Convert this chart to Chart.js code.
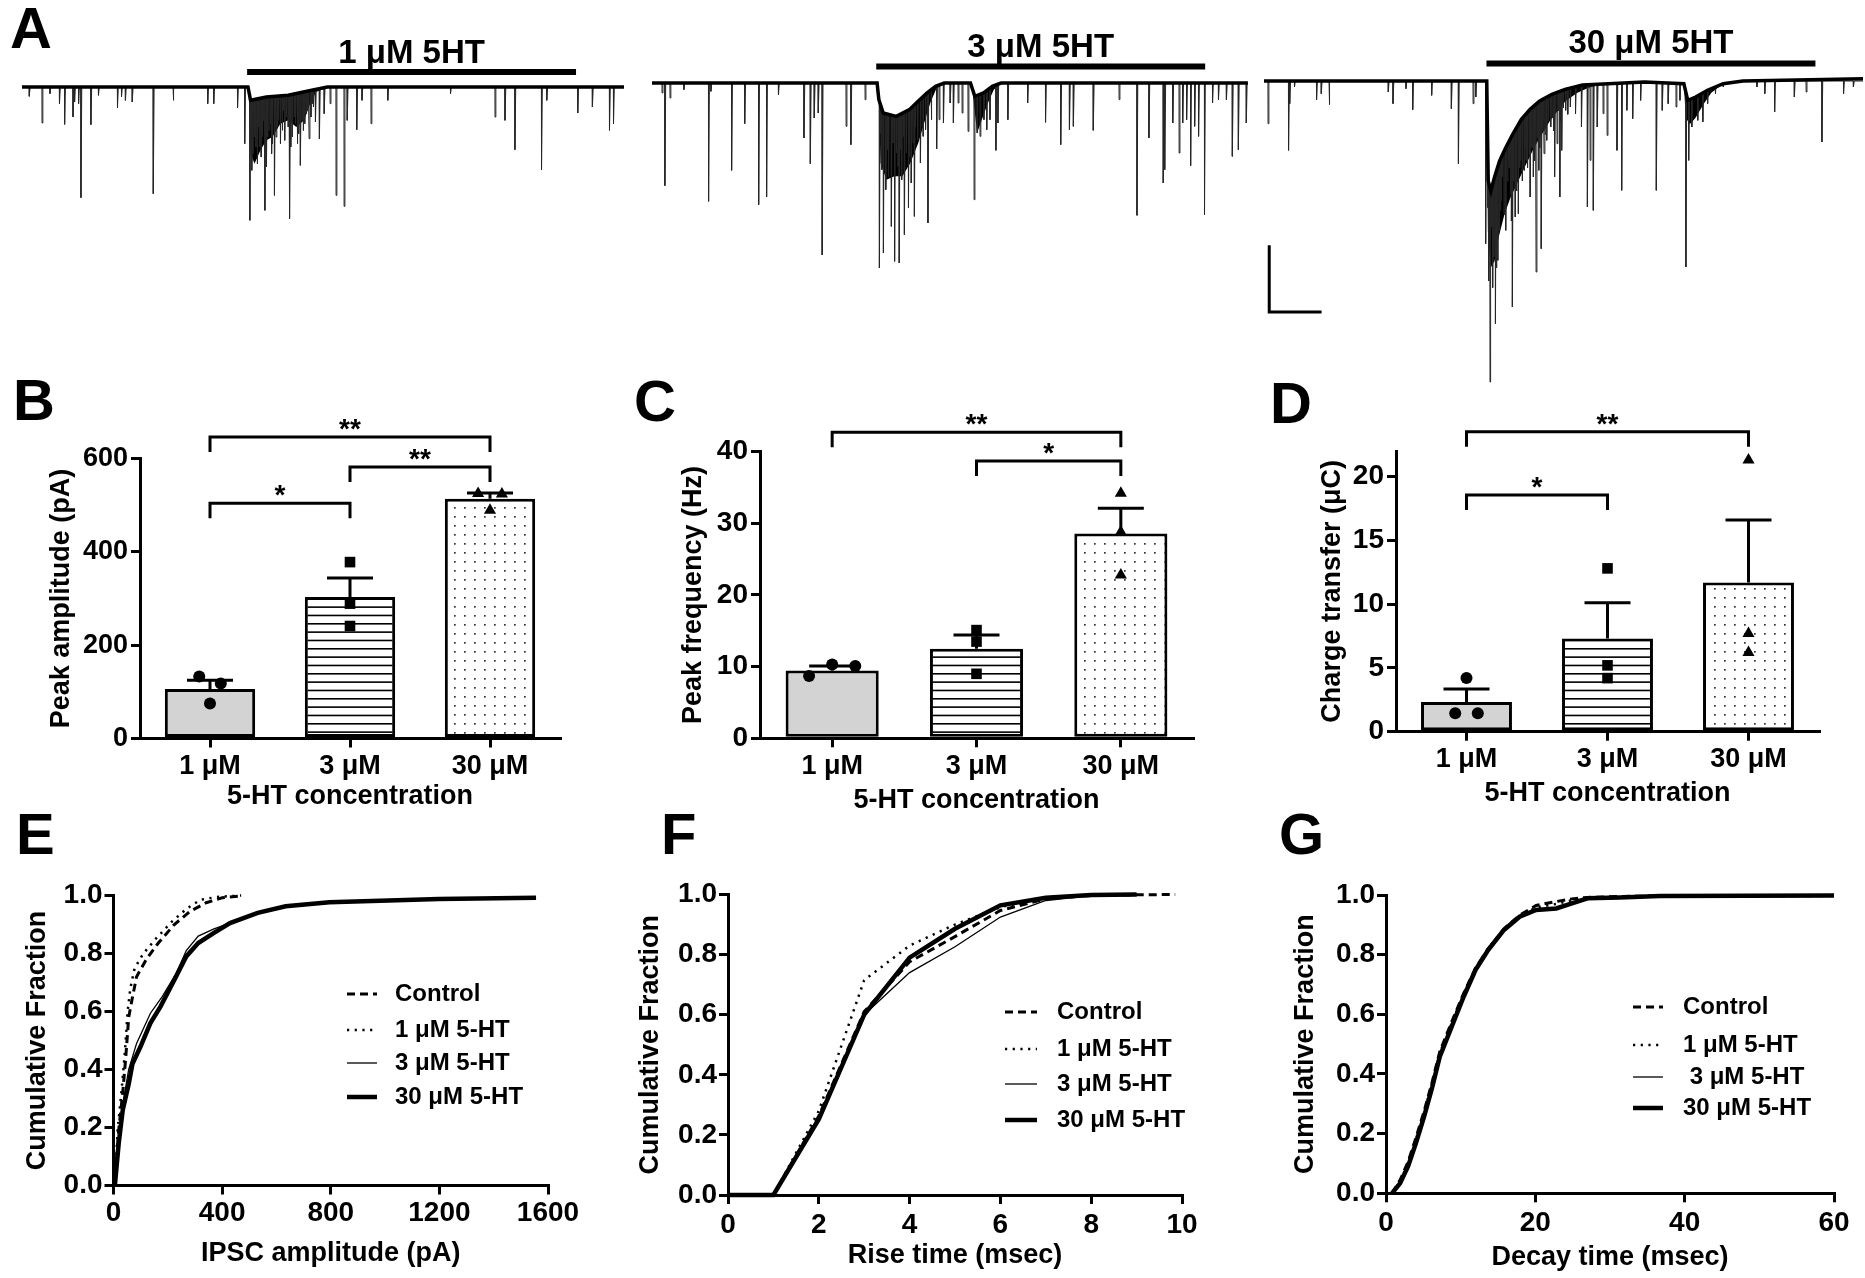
<!DOCTYPE html>
<html>
<head>
<meta charset="utf-8">
<title>5-HT and sIPSCs</title>
<script src="https://cdn.jsdelivr.net/npm/chart.js@4.4.1/dist/chart.umd.min.js"></script>
<style>
  html, body { margin: 0; padding: 0; background: #fff; }
  #page { position: relative; width: 1865px; height: 1278px; overflow: hidden; background: #fff; }
  #page canvas { position: absolute; }
  .letter { position: absolute; font-family: 'Liberation Sans Narrow', 'Liberation Sans', Arial, sans-serif;
            font-weight: bold; font-size: 58px; line-height: 1; color: #000; }
</style>
</head>
<body>
<div id="page"></div>
<script>
// ---------- A: sIPSC traces, events as [time s, peak pA] ----------
const drugLabels = ['1 μM 5HT', '3 μM 5HT', '30 μM 5HT'];
const drugOn = [258, 257, 255];
const drugOff = [635, 634, 632];

const trace1Events = [[8.2,-28],[22.8,-108],[31.9,-20],[42.8,-50],[48.7,-112],[58.3,-90],[60.1,-45],[64.7,-50],[67.4,-332],[78.8,-113],[87.5,-25],[109.3,-62],[113.9,-30],[118.4,-40],[126.2,-45],[150.3,-320],[173.1,-40],[212.7,-50],[219.6,-50],[246.9,-62],[255.1,-170],
  [261.0,-400],[262.0,-120],[263.3,-250],[264.5,-200],[266.5,-150],[268.0,-180],[269.7,-230],[271.0,-120],[272.4,-180],[274.0,-210],[275.6,-150],[277.0,-100],[278.3,-370],[280.0,-240],[281.5,-150],[283.0,-130],[284.7,-110],[286.0,-200],[287.0,-170],[289.2,-325],[291.0,-150],[292.4,-120],[294.0,-100],[296.1,-170],[298.0,-130],[299.7,-70],[301.0,-160],[302.9,-90],[305.0,-120],[306.6,-395],[308.0,-180],[309.7,-150],[312.0,-90],[313.4,-110],[315.2,-170],[317.0,-140],[318.9,-235],[321.0,-100],[322.5,-130],[324.0,-110],[325.7,-80],[327.0,-70],[328.9,-155],[331.0,-90],[332.5,-50],[334.0,-60],[336.2,-105],[340.7,-155],[346.2,-80],[353.0,-50],[359.8,-325],[369.0,-358],[372.6,-100],[383.5,-128],[389.5,-40],[399.9,-110],[419.1,-40],[491.0,-20],[542.0,-90],[553.4,-100],[564.8,-188],[595.3,-248],[601.3,-40],[636.8,-78],[653.6,-60],[673.2,-130],[677.8,-110]];
const trace1Base = [[0,0],[259,0],[262,-40],[280,-30],[305,-25],[332,-10],[350,0],[690,0]];
const trace1Burst = [[0,0],[259.6,0],[261.9,-200],[266.5,-230],[273.3,-190],[280.1,-160],[287.0,-150],[296.1,-110],[305.2,-100],[314.3,-120],[323.4,-100],[330.2,-50],[337.1,-15],[350,0],[690,0]];

const trace2Events = [[11.4,-30],[14.6,-308],[20.5,-45],[36.4,-20],[64.7,-355],[67.4,-25],[91.1,-262],[106.1,-122],[122.1,-365],[131.2,-342],[144.8,-35],[174.0,-165],[181.3,-242],[185.8,-105],[190.4,-90],[194.9,-516],[222.3,-130],[227.8,-185],[244.1,-50],[258.3,-40],
  [260.5,-555],[262.0,-150],[263.3,-260],[265.1,-510],[267.8,-320],[269.5,-200],[271.0,-280],[274.2,-430],[276.0,-180],[277.9,-535],[280.1,-210],[282.0,-250],[283.3,-540],[285.0,-200],[286.1,-290],[288.0,-160],[289.2,-455],[291.5,-210],[293.8,-375],[295.0,-220],[297.0,-300],[299.0,-180],[300.6,-400],[302.0,-130],[304.3,-170],[307.5,-240],[310.7,-160],[313.4,-140],[316.1,-420],[319.8,-110],[326.1,-198],[328.9,-110],[333.9,-120],[341.6,-60],[345.3,-120],[350.7,-60],[355.3,-90],[362.1,-145],[369.0,-350],[372.6,-150],[375.8,-160],[380.3,-110],[383.5,-140],[387.2,-110],[394.0,-202],[396.3,-120],[407.7,-110],[430.4,-60],[450.9,-118],[468.3,-185],[478.3,-140],[482.8,-130],[505.6,-142],[535.2,-50],[555.7,-397],[569.4,-165],[585.8,-300],[587.6,-260],[596.7,-120],[604.0,-210],[608.1,-120],[612.6,-110],[617.2,-248],[621.8,-130],[626.3,-160],[633.1,-395],[642.3,-60],[649.1,-50],[658.2,-50],[665.0,-220],[671.9,-200],[681.0,-120]];
const trace2Base = [[0,0],[258,0],[260,-50],[265,-90],[280,-100],[295,-80],[305,-55],[315,-30],[325,-10],[335,0],[365,0],[370,-40],[380,-30],[390,-10],[400,0],[683,0]];
const trace2Burst = [[0,0],[259.6,0],[261.9,-240],[268.7,-290],[277.9,-280],[287.0,-280],[296.1,-240],[305.2,-180],[312.0,-120],[318.9,-60],[325.7,-18],[335,0],[365,0],[368,-40],[372.6,-150],[378,-110],[385,-60],[391.7,-20],[400,0],[683,0]];

const trace3Events = [[4.5,-128],[28.0,-208],[29.4,-68],[34.8,-18],[60.1,-56],[65.5,-38],[74.5,-71],[142.3,-33],[147.7,-68],[162.6,-23],[170.3,-86],[192.0,-43],[214.6,-83],[222.7,-248],[239.5,-68],[242.6,-48],[253.9,-488],
  [256.5,-380],[257.5,-600],[258.9,-903],[259.5,-450],[260.7,-438],[262.0,-620],[263.4,-528],[264.3,-480],[265.2,-728],[266.5,-560],[267.9,-538],[269.5,-450],[271.1,-388],[272.0,-360],[273.3,-288],[275.0,-400],[276.9,-448],[278.5,-300],[280.1,-238],[281.0,-260],[282.4,-338],[283.5,-420],[284.6,-678],[286.0,-300],[287.8,-408],[289.5,-330],[291.4,-398],[293.0,-260],[294.1,-238],[296.0,-300],[298.2,-268],[299.0,-200],[300.4,-238],[302.0,-260],[304.0,-220],[305.0,-348],[307.0,-200],[308.6,-288],[310.0,-240],[311.7,-573],[313.0,-170],[314.9,-268],[316.0,-200],[317.6,-503],[319.0,-150],[320.8,-218],[322.0,-160],[323.9,-178],[326.0,-120],[328.5,-138],[330.0,-110],[332.0,-150],[333.0,-288],[335.7,-188],[337.0,-90],[338.9,-348],[340.0,-120],[341.1,-208],[343.0,-80],[345.6,-88],[348.0,-100],[351.0,-78],[356.9,-98],[363.7,-138],[370.5,-378],[373.6,-238],[377.3,-388],[381.8,-138],[388.5,-98],[393.1,-163],[404.4,-208],[409.8,-328],[415.7,-88],[422.4,-113],[431.5,-58],[449.5,-328],[456.3,-88],[463.1,-68],[472.1,-78],[476.6,-58],[483.4,-558],[486.6,-238],[490.2,-138],[497.0,-118],[502.8,-123],[508.3,-68],[517.3,-38],[526.3,-18],[564.8,-18],[573.8,-38],[585.1,-93],[607.7,-48],[621.2,-33],[639.3,-183],[664.1,-38],[675.4,-18]];
const trace3Base = [[0,0],[255.3,0],[257.0,-300],[260.0,-330],[264.0,-290],[270.0,-240],[277.0,-200],[285.0,-160],[295.0,-115],[305.0,-85],[316.0,-60],[330.0,-40],[345.0,-25],[365.0,-12],[436.0,-3],[481.2,-8],[485.7,-58],[494.7,-48],[508.3,-28],[526.3,-8],[548.9,0],[687,7]];
const trace3Burst = [[0,0],[255.3,0],[256.6,-450],[259.8,-560],[264.3,-540],[268.8,-470],[275.6,-400],[282.4,-350],[291.4,-300],[300.4,-250],[309.5,-200],[318.5,-160],[327.6,-120],[336.6,-90],[345.6,-60],[359.2,-35],[372.0,-20],[390.0,-8],[436.0,-3],[481.2,-8],[483.4,-110],[488.0,-130],[494.7,-110],[503.7,-70],[512.7,-35],[526.3,-8],[548.9,0],[687,7]];

// scale bar: 60 s, 200 pA
const scaleBarTime = [6, 6, 66];
const scaleBarAmp = [-493, -693, -693];

// ---------- B-D: bars (mean, SEM) and single cells ----------
const concLabels = ['1 μM', '3 μM', '30 μM'];
const ampMean = [106, 303, 514];
const ampSem = [19, 41, 12];
const ampCells = [[133, 118, 75], [378, 289, 241], [525, 524, 489]];
const freqMean = [9.45, 12.5, 28.6];
const freqSem = [0.65, 1.9, 3.5];
const freqCells = [[8.7, 10.3, 10.1], [15.1, 13.5, 9.0], [34.2, 28.8, 22.8]];
const chargeMean = [2.33, 7.3, 11.7];
const chargeSem = [1.02, 2.8, 4.9];
const chargeCells = [[4.2, 1.45, 1.45], [12.8, 5.2, 4.2], [21.3, 7.7, 6.2]];

// ---------- E-G: cumulative distributions ----------
const seriesLabels = ['Control', '1 μM 5-HT', '3 μM 5-HT', '30 μM 5-HT'];
const ampCtrlX = [5, 19, 34, 45, 56, 70, 85, 121, 165, 224, 283, 341, 400, 468];
const ampCtrlY = [0, 0.19, 0.32, 0.44, 0.58, 0.65, 0.72, 0.78, 0.836, 0.90, 0.946, 0.975, 0.992, 0.998];
const amp1X = [5, 15, 30, 42, 52, 62, 78, 110, 155, 215, 270, 320, 380, 470];
const amp1Y = [0, 0.19, 0.33, 0.46, 0.60, 0.68, 0.75, 0.80, 0.85, 0.91, 0.955, 0.985, 0.995, 1.0];
const amp3X = [5, 19, 34, 56, 85, 136, 180, 231, 268, 312, 370, 429, 531, 634, 795, 1044, 1197, 1556];
const amp3Y = [0, 0.15, 0.28, 0.40, 0.49, 0.594, 0.652, 0.732, 0.81, 0.86, 0.885, 0.905, 0.94, 0.963, 0.977, 0.984, 0.988, 0.992];
const amp30X = [5, 19, 34, 56, 70, 100, 136, 173, 224, 268, 312, 370, 429, 531, 634, 795, 1044, 1197, 1556];
const amp30Y = [0, 0.144, 0.26, 0.35, 0.42, 0.48, 0.56, 0.617, 0.709, 0.79, 0.836, 0.871, 0.905, 0.94, 0.963, 0.977, 0.984, 0.988, 0.992];

const riseX = [0, 1, 2, 3, 4, 5, 6, 7, 8, 9, 9.85];
const riseCtrl = [0, 0, 0.263, 0.61, 0.776, 0.86, 0.947, 0.986, 0.997, 0.999, 1.0];
const rise1 = [0, 0, 0.28, 0.715, 0.83, 0.9, 0.958, 0.99, 1.0, 1.0];
const rise3 = [0, 0, 0.263, 0.60, 0.74, 0.826, 0.925, 0.98, 0.996, 1.0];
const rise30 = [0, 0, 0.252, 0.60, 0.79, 0.886, 0.964, 0.989, 0.998, 1.0];

const decayX = [0.8, 1.9, 2.95, 4.0, 5.1, 6.2, 7.2, 8.8, 10.4, 12.0, 13.7, 15.8, 17.9, 20.1, 22.8, 24.9, 27.0, 31.3, 36.7, 60];
const decayCtrl = [0, 0.045, 0.105, 0.185, 0.275, 0.375, 0.475, 0.575, 0.67, 0.755, 0.82, 0.886, 0.932, 0.965, 0.978, 0.987, 0.992, 0.995, 0.997, 0.998];
const decay1 = [0, 0.04, 0.1, 0.18, 0.27, 0.37, 0.47, 0.57, 0.668, 0.755, 0.822, 0.888, 0.93, 0.958, 0.97, 0.982, 0.99, 0.994, 0.997, 0.998];
const decay3 = [0, 0.036, 0.093, 0.172, 0.262, 0.362, 0.462, 0.562, 0.662, 0.752, 0.818, 0.884, 0.926, 0.948, 0.956, 0.974, 0.989, 0.993, 0.997, 0.998];
const decay30 = [0, 0.034, 0.09, 0.168, 0.257, 0.357, 0.458, 0.559, 0.659, 0.749, 0.816, 0.883, 0.927, 0.95, 0.955, 0.972, 0.989, 0.992, 0.997, 0.998];

// ---------- layout (page pixels) ----------
const FONT = "'Liberation Sans', Arial, Helvetica, sans-serif";
Chart.defaults.font.family = FONT;
Chart.defaults.font.weight = 'bold';
Chart.defaults.color = '#000';
Chart.defaults.animation = false;

const page = document.getElementById('page');

function addCanvas(left, top, w, h) {
  const c = document.createElement('canvas');
  c.width = w; c.height = h;
  c.style.left = left + 'px'; c.style.top = top + 'px';
  c.style.width = w + 'px'; c.style.height = h + 'px';
  page.appendChild(c);
  return c;
}

function addLetter(ch, x, baseline) {
  const d = document.createElement('div');
  d.className = 'letter';
  d.textContent = ch;
  d.style.left = x + 'px';
  d.style.top = (baseline - 0.8465 * 58) + 'px';
  page.appendChild(d);
}

function pattern(w, h, draw) {
  const c = document.createElement('canvas');
  c.width = w; c.height = h;
  const g = c.getContext('2d');
  draw(g);
  return g.createPattern(c, 'repeat');
}
const fillGray = '#d3d3d3';
const fillStripes = pattern(20, 25, g => {
  g.fillStyle = '#fff'; g.fillRect(0, 0, 20, 25);
  g.fillStyle = '#000';
  [3, 11.33, 19.67].forEach(y => g.fillRect(0, y, 20, 1.6));
});
const fillDots = pattern(10, 9, g => {
  g.fillStyle = '#fff'; g.fillRect(0, 0, 10, 9);
  g.fillStyle = '#333'; g.fillRect(4, 4, 1.7, 1.7);
});

function axisLook(extra) {
  return Object.assign({
    grid: { drawOnChartArea: false, drawTicks: true, tickLength: 9, lineWidth: 3, color: '#000' },
    border: { display: true, width: 3, color: '#000' }
  }, extra);
}

// ---------- A ----------
const pxPerSec = 0.8725, pAPerPx = 3;
const traceLeft = [21.9, 651.9, 1263.8];
const traceWidth = [602, 596, 599];
const traceZero = [87, 83, 81];
const drugGap = [12, 13.5, 14.5];
const drugTextGap = [24, 26.5, 28];

const drugPlugin = {
  id: 'drug',
  afterDraw(chart, args, o) {
    const ctx = chart.ctx, x = chart.scales.x, y = chart.scales.y;
    const base = y.getPixelForValue(0);
    const x1 = x.getPixelForValue(o.on), x2 = x.getPixelForValue(o.off);
    ctx.save();
    ctx.fillStyle = '#000';
    ctx.fillRect(x1, base - o.gap - 6, x2 - x1, 6);
    ctx.font = 'bold 33px ' + FONT;
    ctx.textAlign = 'center';
    ctx.textBaseline = 'alphabetic';
    ctx.fillText(o.text, (x1 + x2) / 2, base - o.textGap);
    ctx.restore();
  }
};

function spikes(events, tEnd) {
  const pts = [{ x: 0, y: 0 }];
  events.forEach(([t, a]) => {
    pts.push({ x: t, y: 0 }, { x: t + 0.15, y: a }, { x: t + 1.1, y: 0 });
  });
  pts.push({ x: tEnd, y: 0 });
  return pts;
}
const toXY = arr => arr.map(([x, y]) => ({ x, y }));

function tracePanel(i, events, base, burst, withScaleBar) {
  const h = 400;
  const cv = addCanvas(traceLeft[i], 0, traceWidth[i], h);
  const tEnd = traceWidth[i] / pxPerSec;
  const yMax = traceZero[i] * pAPerPx;
  const datasets = [
    // 0: individual events
    { data: spikes(events, tEnd), borderColor: '#262626', borderWidth: 1, pointRadius: 0, fill: false, order: 1 },
    // 1: holding-current baseline; white above it hides event strokes that start at 0 pA
    { data: toXY(base), borderColor: '#000', borderWidth: 3.5, pointRadius: 0, fill: { value: 6 }, backgroundColor: '#fff', order: 0 },
    // 2: dense burst region below the baseline
    { data: toXY(burst), borderWidth: 0, borderColor: 'rgba(0,0,0,0)', backgroundColor: '#000', pointRadius: 0, fill: 1, order: 2 }
  ];
  if (withScaleBar) {
    datasets.push({ data: scaleBarTime.map((t, k) => ({ x: t, y: scaleBarAmp[k] })), borderColor: '#000', borderWidth: 3,
      borderJoinStyle: 'miter', pointRadius: 0, fill: false, order: 0 });
  }
  new Chart(cv, {
    type: 'line',
    data: { datasets },
    options: {
      responsive: false, animation: false,
      layout: { padding: 0 },
      plugins: { legend: { display: false }, tooltip: { enabled: false },
        drug: { on: drugOn[i], off: drugOff[i], text: drugLabels[i], gap: drugGap[i], textGap: drugTextGap[i] } },
      scales: {
        x: { type: 'linear', display: false, min: 0, max: tEnd },
        y: { display: false, min: yMax - h * pAPerPx, max: yMax }
      }
    },
    plugins: [drugPlugin]
  });
}

tracePanel(0, trace1Events, trace1Base, trace1Burst, false);
tracePanel(1, trace2Events, trace2Base, trace2Burst, false);
tracePanel(2, trace3Events, trace3Base, trace3Burst, true);

// ---------- B-D ----------
const markerStyles = ['circle', 'rect', 'triangle'];
const markerSizes = [6, 7.5, 7];

const semPlugin = {
  id: 'sem',
  afterDatasetDraw(chart, args, o) {
    if (args.index !== 0) return;
    const ctx = chart.ctx, y = chart.scales.y;
    const means = chart.data.datasets[0].data;
    ctx.save();
    ctx.strokeStyle = '#000'; ctx.lineWidth = 3; ctx.lineCap = 'butt';
    chart.getDatasetMeta(0).data.forEach((bar, k) => {
      const top = y.getPixelForValue(means[k] + o.sems[k]);
      ctx.beginPath();
      ctx.moveTo(bar.x, y.getPixelForValue(means[k]));
      ctx.lineTo(bar.x, top);
      ctx.moveTo(bar.x - o.cap / 2, top);
      ctx.lineTo(bar.x + o.cap / 2, top);
      ctx.stroke();
    });
    ctx.restore();
  }
};

const bracketPlugin = {
  id: 'brackets',
  afterDraw(chart, args, o) {
    const ctx = chart.ctx, xs = chart.scales.xs, y = chart.scales.y;
    ctx.save();
    ctx.strokeStyle = '#000'; ctx.fillStyle = '#000'; ctx.lineWidth = 3;
    ctx.lineJoin = 'miter'; ctx.lineCap = 'butt';
    ctx.font = 'bold 28px ' + FONT; ctx.textAlign = 'center'; ctx.textBaseline = 'alphabetic';
    o.list.forEach(b => {
      const x1 = xs.getPixelForValue(b.from), x2 = xs.getPixelForValue(b.to), yp = y.getPixelForValue(b.at);
      ctx.beginPath();
      ctx.moveTo(x1, yp + 15); ctx.lineTo(x1, yp); ctx.lineTo(x2, yp); ctx.lineTo(x2, yp + 15);
      ctx.stroke();
      ctx.fillText(b.mark, (x1 + x2) / 2, yp + 1);
    });
    ctx.restore();
  }
};

function barPanel(g, means, sems, cells, jitter, yMax, yStep, yTitle, brackets) {
  const cv = addCanvas(g.left, g.top, g.w, g.h);
  const datasets = [{
    type: 'bar', data: means, xAxisID: 'x', yAxisID: 'y', grouped: false,
    backgroundColor: [fillGray, fillStripes, fillDots],
    borderColor: '#000', borderWidth: 3, borderSkipped: false,
    categoryPercentage: 1, barPercentage: 0.645, order: 3
  }];
  cells.forEach((vals, i) => {
    datasets.push({
      type: 'scatter', xAxisID: 'xs', yAxisID: 'y', clip: false,
      data: vals.map((v, k) => ({ x: i + jitter[i][k], y: v })),
      pointStyle: markerStyles[i], pointRadius: markerSizes[i],
      backgroundColor: '#000', borderColor: '#000', borderWidth: 0, order: 0
    });
  });
  const tSize = 27, lh = tSize * 1.2;
  new Chart(cv, {
    type: 'bar',
    data: { labels: concLabels, datasets },
    options: {
      responsive: false, animation: false,
      layout: { padding: { top: g.axisTop - g.top, right: g.left + g.w - g.axisRight, left: 0, bottom: 0 } },
      plugins: { legend: { display: false }, tooltip: { enabled: false },
        sem: { sems, cap: 46 }, brackets: { list: brackets } },
      scales: {
        x: axisLook({
          type: 'category', offset: true,
          grid: { offset: false, drawOnChartArea: false, drawTicks: true, tickLength: 9, lineWidth: 3, color: '#000' },
          ticks: { font: { size: 27, weight: 'bold' }, padding: 3, maxRotation: 0, autoSkip: false },
          title: { display: true, text: '5-HT concentration', font: { size: tSize, weight: 'bold' },
            padding: { top: 0, bottom: g.top + g.h - g.xTitleY - lh / 2 } },
          afterFit: s => { s.height = g.top + g.h - g.axisY; }
        }),
        xs: { type: 'linear', display: false, offset: false, min: -0.5, max: 2.5 },
        y: axisLook({
          min: 0, max: yMax,
          ticks: { stepSize: yStep, includeBounds: false, font: { size: g.yTick, weight: 'bold' }, padding: 3 },
          title: { display: true, text: yTitle, font: { size: tSize, weight: 'bold' },
            padding: { top: g.yTitleX - g.left - lh / 2, bottom: 0 } },
          afterFit: s => { s.width = g.axisX - g.left; }
        })
      }
    },
    plugins: [semPlugin, bracketPlugin]
  });
}

const geoB = { left: 0, top: 395, w: 600, h: 425, axisX: 140, axisY: 738.5, axisTop: 458.5, axisRight: 560, yTitleX: 61.6, xTitleY: 797, yTick: 27 };
const geoC = { left: 620, top: 395, w: 600, h: 425, axisX: 760, axisY: 738.3, axisTop: 451.7, axisRight: 1193, yTitleX: 694, xTitleY: 801, yTick: 28 };
const geoD = { left: 1240, top: 395, w: 625, h: 425, axisX: 1396, axisY: 731.7, axisTop: 451, axisRight: 1819, yTitleX: 1333, xTitleY: 794, yTick: 28 };

barPanel(geoB, ampMean, ampSem, ampCells, [[-0.077, 0.077, 0], [0, 0, 0], [-0.085, 0.085, 0]], 600, 200, 'Peak amplitude (pA)',
  [{ from: 0, to: 2, at: 646, mark: '**' }, { from: 1, to: 2, at: 582, mark: '**' }, { from: 0, to: 1, at: 504, mark: '*' }]);
barPanel(geoC, freqMean, freqSem, freqCells, [[-0.16, 0, 0.16], [0, 0, 0], [0, 0, 0]], 40, 10, 'Peak frequency (Hz)',
  [{ from: 0, to: 2, at: 42.7, mark: '**' }, { from: 1, to: 2, at: 38.7, mark: '*' }]);
barPanel(geoD, chargeMean, chargeSem, chargeCells, [[0, -0.08, 0.08], [0, 0, 0], [0, 0, 0]], 22, 5, 'Charge transfer (μC)',
  [{ from: 0, to: 2, at: 23.5, mark: '**' }, { from: 0, to: 1, at: 18.55, mark: '*' }]);

// ---------- E-G ----------
const lineDash = [[8, 5], [2.2, 5.5], [], []];
const lineWidth = [3, 2.5, 1.3, 4.5];

const keyPlugin = {
  id: 'key',
  afterDraw(chart, args, o) {
    const ctx = chart.ctx;
    ctx.save();
    ctx.font = 'bold 24px ' + FONT; ctx.textBaseline = 'middle'; ctx.fillStyle = '#000'; ctx.strokeStyle = '#000';
    chart.data.datasets.forEach((ds, i) => {
      const y = o.rows[i] - o.top;
      ctx.beginPath();
      ctx.setLineDash(ds.borderDash);
      ctx.lineWidth = ds.borderWidth;
      ctx.moveTo(o.x0 - o.left, y); ctx.lineTo(o.x1 - o.left, y);
      ctx.stroke();
      ctx.fillText(o.names ? o.names[i] : ds.label, o.tx - o.left, y);
    });
    ctx.restore();
  }
};

function cumPanel(g, xMax, xStep, xTitle, xs, ys, key) {
  const cv = addCanvas(g.left, g.top, g.w, g.h);
  const tSize = 27, lh = tSize * 1.2;
  const datasets = ys.map((yv, i) => ({
    label: seriesLabels[i],
    data: yv.map((v, k) => ({ x: xs[i][k], y: v })),
    borderColor: '#000', borderWidth: lineWidth[i], borderDash: lineDash[i], borderCapStyle: 'butt',
    pointRadius: 0, fill: false, tension: 0, clip: false
  }));
  new Chart(cv, {
    type: 'line',
    data: { datasets },
    options: {
      responsive: false, animation: false,
      layout: { padding: { top: g.axisTop - g.top, right: g.left + g.w - g.axisRight, left: 0, bottom: 0 } },
      plugins: { legend: { display: false }, tooltip: { enabled: false },
        key: Object.assign({ left: g.left, top: g.top }, key) },
      scales: {
        x: axisLook({
          type: 'linear', min: 0, max: xMax,
          ticks: { stepSize: xStep, font: { size: 28, weight: 'bold' }, padding: g.xPad, callback: v => String(v) },
          title: { display: true, text: xTitle, font: { size: tSize, weight: 'bold' },
            padding: { top: 0, bottom: g.top + g.h - g.xTitleY - lh / 2 } },
          afterFit: s => { s.height = g.top + g.h - g.axisY; }
        }),
        y: axisLook({
          min: 0, max: 1,
          ticks: { stepSize: 0.2, font: { size: 28, weight: 'bold' }, padding: 2, callback: v => v.toFixed(1) },
          title: { display: true, text: 'Cumulative Fraction', font: { size: tSize, weight: 'bold' },
            padding: { top: g.yTitleX - g.left - lh / 2, bottom: 0 } },
          afterFit: s => { s.width = g.axisX - g.left; }
        })
      }
    },
    plugins: [keyPlugin]
  });
}

const geoE = { left: 0, top: 870, w: 600, h: 408, axisX: 113.5, axisY: 1185.5, axisTop: 895.5, axisRight: 548, yTitleX: 38, xTitleY: 1254, xPad: 2 };
const geoF = { left: 620, top: 870, w: 620, h: 408, axisX: 728, axisY: 1195, axisTop: 894.5, axisRight: 1182, yTitleX: 651, xTitleY: 1256, xPad: 4 };
const geoG = { left: 1240, top: 870, w: 625, h: 408, axisX: 1386, axisY: 1193.3, axisTop: 895, axisRight: 1834, yTitleX: 1306, xTitleY: 1258, xPad: 4 };

cumPanel(geoE, 1600, 400, 'IPSC amplitude (pA)',
  [ampCtrlX, amp1X, amp3X, amp30X], [ampCtrlY, amp1Y, amp3Y, amp30Y],
  { x0: 347, x1: 377, tx: 395, rows: [994, 1030, 1063, 1097] });
cumPanel(geoF, 10, 2, 'Rise time (msec)',
  [riseX, riseX, riseX, riseX], [riseCtrl, rise1, rise3, rise30],
  { x0: 1005, x1: 1037, tx: 1057, rows: [1012, 1049, 1084, 1120] });
cumPanel(geoG, 60, 20, 'Decay time (msec)',
  [decayX, decayX, decayX, decayX], [decayCtrl, decay1, decay3, decay30],
  { x0: 1633, x1: 1663, tx: 1683, rows: [1007, 1045, 1077, 1108],
    names: ['Control', '1 μM 5-HT', ' 3 μM 5-HT', '30 μM 5-HT'] });

// panel letters
addLetter('A', 10, 48);
addLetter('B', 13, 420);
addLetter('C', 634, 421);
addLetter('D', 1270, 423);
addLetter('E', 16, 854);
addLetter('F', 661, 854);
addLetter('G', 1279, 854);
</script>
</body>
</html>
